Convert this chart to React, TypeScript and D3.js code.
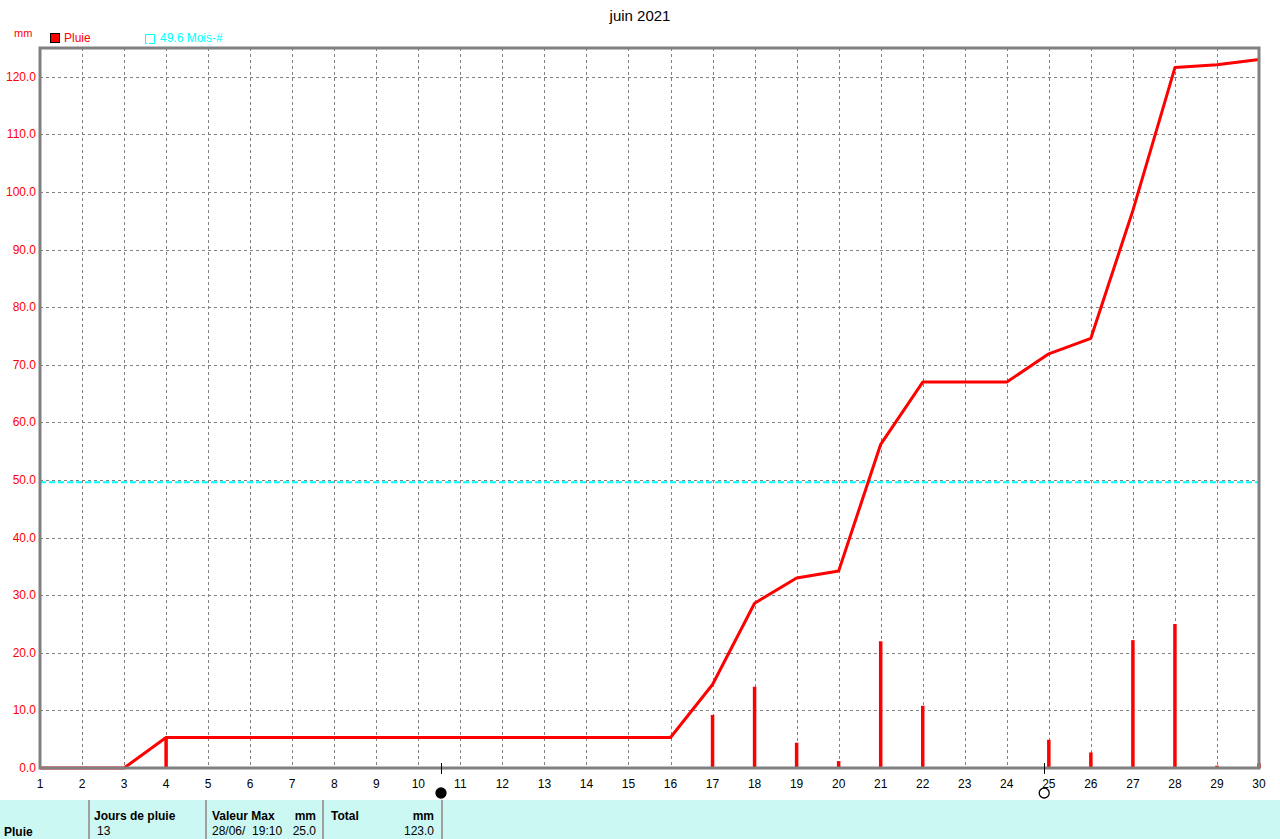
import React from 'react';
import * as d3 from 'd3';

// days of the month
const days = d3.range(1, 31);
// daily rain (mm) per day, 0 when dry
const dailyRain = [0, 0, 0, 5.3, 0, 0, 0, 0, 0, 0, 0, 0, 0, 0, 0, 0, 9.2, 14.1, 4.4, 1.2, 22.0, 10.8, 0, 0, 4.9, 2.7, 22.2, 25.0, 0.4, 0.8];
// cumulated rain
const cumulRain = [0, 0, 0, 5.3, 5.3, 5.3, 5.3, 5.3, 5.3, 5.3, 5.3, 5.3, 5.3, 5.3, 5.3, 5.3, 14.5, 28.6, 33.0, 34.2, 56.2, 67.0, 67.0, 67.0, 71.9, 74.6, 96.8, 121.6, 122.1, 123.0];
const yTicks = [0, 10, 20, 30, 40, 50, 60, 70, 80, 90, 100, 110, 120];
const monthNormal = 49.6;
// moon phases: [day position, filled?]
const moons: [number, boolean][] = [[10.54, true], [24.89, false]];

const W = 1280;
const H = 839;
const left = 40;
const right = 1259;
const top = 48;
const bottom = 768;
const font = 'Liberation Sans, Arial, sans-serif';

export default function App() {
  const x = d3.scaleLinear().domain([1, 30]).range([left, right]);
  const y = d3.scaleLinear().domain([0, 125]).range([bottom, top]);

  const line = d3.line<number>()
    .x((_, i) => x(days[i]))
    .y(d => y(d));

  return (
    <div style={{ position: 'fixed', left: 0, top: 0 }}>
      <svg width={W} height={H} style={{ display: 'block', background: '#fff' }} fontFamily={font}>
        <text x={640} y={21} textAnchor="middle" fontSize={15} fill="#000">juin 2021</text>
        <text x={14} y={37} fontSize={11} fill="#ff0000">mm</text>

        {/* legend */}
        <rect x={50.5} y={33.5} width={9} height={9} fill="#ff0000" stroke="#000" />
        <text x={64} y={42} fontSize={12} fill="#ff0000">Pluie</text>
        <path d="M145.5,34.5 H154.5 V43.5 H149" fill="none" stroke="#00ffff" />
        <path d="M145.5,34.5 V43.5 H147" fill="none" stroke="#00ffff" />
        <text x={160} y={42} fontSize={12} fill="#00ffff">49.6 Mois-#</text>

        {/* grid */}
        <g stroke="#808080" strokeDasharray="3,3" strokeWidth={1}>
          {days.slice(1, -1).map(d => (
            <line key={'v' + d} x1={Math.round(x(d)) + 0.5} x2={Math.round(x(d)) + 0.5} y1={top} y2={bottom} />
          ))}
          {yTicks.slice(1).map(t => (
            <line key={'h' + t} x1={left} x2={right} y1={Math.round(y(t)) + 0.5} y2={Math.round(y(t)) + 0.5} />
          ))}
        </g>

        {/* y labels */}
        {yTicks.map(t => (
          <text key={t} x={36} y={y(t) + 4} textAnchor="end" fontSize={12} fill="#ff0000">{t.toFixed(1)}</text>
        ))}

        {/* monthly normal */}
        <line x1={left} x2={right} y1={y(monthNormal)} y2={y(monthNormal)} stroke="#00ffff" strokeWidth={2} strokeDasharray="6,3" />

        {/* daily bars */}
        {dailyRain.map((v, i) => v > 0 ? (
          <line key={'b' + i} x1={x(days[i])} x2={x(days[i])} y1={bottom} y2={y(v)} stroke="#ff0000" strokeWidth={3.5} />
        ) : null)}

        {/* cumulative */}
        <path d={line(cumulRain) || ''} fill="none" stroke="#ff0000" strokeWidth={3} strokeLinejoin="round" />

        {/* frame */}
        <rect x={left} y={top} width={right - left} height={bottom - top} fill="none" stroke="#808080" strokeWidth={3} />

        {/* x labels */}
        {days.map(d => (
          <text key={'x' + d} x={x(d)} y={788} textAnchor="middle" fontSize={12} fill="#000">{d}</text>
        ))}

        {/* moon phases */}
        {moons.map(([d, filled], i) => (
          <g key={'m' + i}>
            <line x1={Math.round(x(d)) + 0.5} x2={Math.round(x(d)) + 0.5} y1={763} y2={774} stroke="#000" />
            <circle cx={x(d)} cy={793} r={5} fill={filled ? '#000' : '#fff'} stroke="#000" strokeWidth={1.3} />
          </g>
        ))}

        {/* summary table */}
        <rect x={0} y={800} width={W} height={39} fill="#ccf8f4" />
        <g stroke="#a0a0a0" strokeWidth={2}>
          {[89, 206, 323, 442].map(px => (
            <line key={px} x1={px} x2={px} y1={800} y2={839} />
          ))}
        </g>
        <g fontSize={12} fill="#000">
          <text x={4} y={836} fontWeight="bold">Pluie</text>
          <text x={94} y={820} fontWeight="bold">Jours de pluie</text>
          <text x={97} y={835}>13</text>
          <text x={212} y={820} fontWeight="bold">Valeur Max</text>
          <text x={316} y={820} fontWeight="bold" textAnchor="end">mm</text>
          <text x={212} y={835} style={{ whiteSpace: 'pre' }}>28/06/  19:10</text>
          <text x={316} y={835} textAnchor="end">25.0</text>
          <text x={331} y={820} fontWeight="bold">Total</text>
          <text x={434} y={820} fontWeight="bold" textAnchor="end">mm</text>
          <text x={434} y={835} textAnchor="end">123.0</text>
        </g>
      </svg>
    </div>
  );
}
